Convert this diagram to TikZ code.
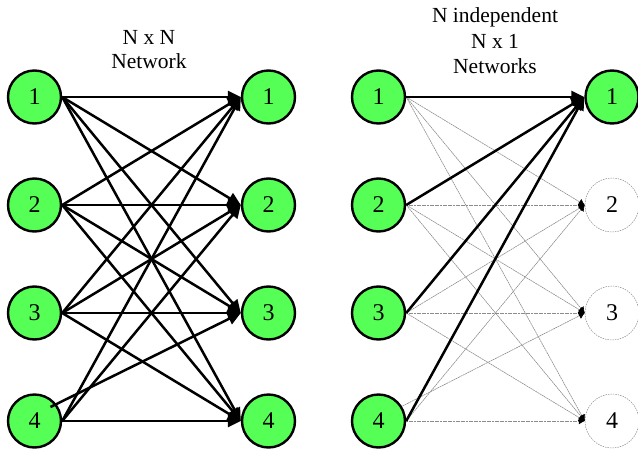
\documentclass[tikz,border=0pt]{standalone}
\usepackage{fontspec}
\setmainfont{Liberation Serif}
\usetikzlibrary{arrows.meta}
\definecolor{nodegreen}{RGB}{85,255,85}
\definecolor{thingray}{RGB}{140,140,140}
\begin{document}
\begin{tikzpicture}[x=1pt,y=-1pt,
  every node/.style={font=\fontsize{21.5}{25}\selectfont},
  netnode/.style={circle,draw=black,line width=2.4pt,fill=nodegreen,minimum size=53pt,inner sep=0pt,font=\fontsize{24}{26}\selectfont},
  ghostnode/.style={circle,draw=thingray,line width=0.5pt,dash pattern=on 1.5pt off 1pt,minimum size=54pt,inner sep=0pt,font=\fontsize{24}{26}\selectfont},
  thickarrow/.style={line width=2.5pt,-{Triangle[length=13pt,width=12pt]}},
  thinarrow/.style={draw=thingray,line width=0.6pt,dash pattern=on 2pt off 0.6pt,-{Latex[length=6pt,width=7pt,black]}},
  title/.style={anchor=base,inner sep=0pt}]
\useasboundingbox (0,0) rectangle (638,453);
% titles
\node[title] (tl1) at (149,44) {N x N};
\node[title] (tl2) at (149,68) {Network};
\node[title] (tr1) at (495,22) {N independent};
\node[title] (tr2) at (495,48) {N x 1};
\node[title] (tr3) at (495,73) {Networks};
% nodes
\foreach \i/\y in {1/97,2/205,3/313,4/421}{
  \node[netnode] (a\i) at (34.5,\y) {\i};
  \node[netnode] (b\i) at (268.5,\y) {\i};
  \node[netnode] (c\i) at (378.5,\y) {\i};
}
\node[netnode] (d1) at (612,97) {1};
\node[ghostnode] (d2) at (612,205) {2};
\node[ghostnode] (d3) at (612,313) {3};
\node[ghostnode] (d4) at (612,421) {4};
% left connectors
\foreach \i in {1,2,3}{
  \foreach \j in {1,2,3,4}{
    \draw[thickarrow] (a\i.east) -- (b\j.west);
  }
}
\draw[thickarrow] (a4.east) -- (b1.west);
\draw[thickarrow] (a4.east) -- (b2.west);
\draw[thickarrow] ([shift={(16pt,14pt)}]a4.center) -- (b3.west);
\draw[thickarrow] (a4.east) -- (b4.west);
% right connectors
\foreach \i in {1,2,3}{
  \foreach \j in {2,3,4}{
    \draw[thinarrow] (c\i.east) -- (d\j.west);
  }
}
\draw[thinarrow] (c4.east) -- (d2.west);
\draw[thinarrow] ([shift={(24pt,15pt)}]c4.center) -- (d3.west);
\draw[thinarrow] (c4.east) -- (d4.west);
\foreach \i in {1,2,3,4}{
  \draw[thickarrow] (c\i.east) -- (d1.west);
}
\end{tikzpicture}
\end{document}
